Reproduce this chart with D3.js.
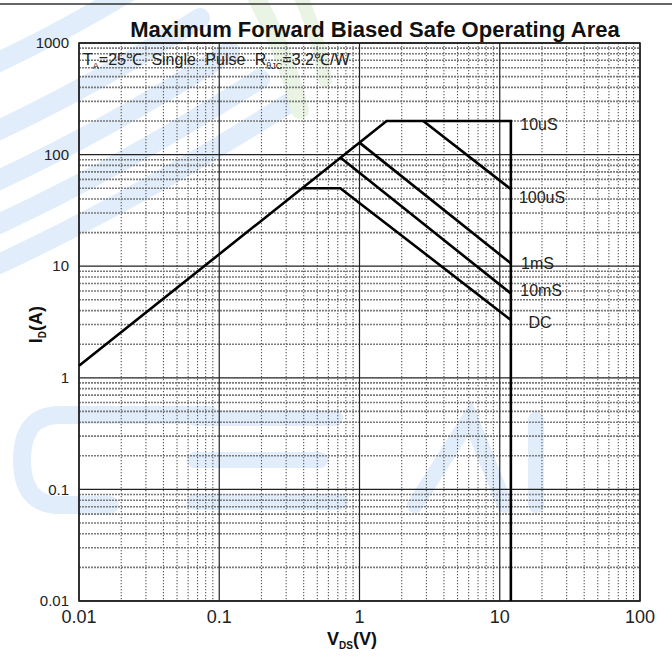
<!DOCTYPE html>
<html>
<head>
<meta charset="utf-8">
<script src="https://cdn.jsdelivr.net/npm/d3@7"></script>
<style>
  body { margin: 0; background: #fff; }
  svg { display: block; font-family: "Liberation Sans", Arial, sans-serif; }
</style>
</head>
<body>
<div id="chart"></div>
<script>
const width = 672;
const height = 664;
const margin = { top: 43, right: 32, bottom: 63, left: 79 };

// axis ticks
const xTickValues = [0.01, 0.1, 1, 10, 100];
const xTickLabels = ["0.01", "0.1", "1", "10", "100"];
const yTickValues = [0.01, 0.1, 1, 10, 100, 1000];
const yTickLabels = ["0.01", "0.1", "1", "10", "100", "1000"];

// SOA curves, VDS (V) and ID (A)
const seriesNames = ["10uS", "100uS", "1mS", "10mS", "DC"];
const seriesV = [
    [0.01, 1.56, 12, 12],
    [2.85, 12],
    [1.0, 12],
    [0.73, 12],
    [0.39, 0.73, 12]
];
const seriesI = [
    [1.28, 200, 200, 0.01],
    [200, 49],
    [128, 10.6],
    [94, 5.7],
    [50, 50, 3.3]
];
// where each curve label sits
const labelI = [188, 41.7, 10.7, 6.1, 3.16];
const labelV = [14, 13.7, 14.2, 14, 16];

const svg = d3.select("#chart")
    .append("svg")
    .attr("width", width)
    .attr("height", height);

const x = d3.scaleLog()
    .domain([0.01, 100])
    .range([margin.left, width - margin.right]);

const y = d3.scaleLog()
    .domain([0.01, 1000])
    .range([height - margin.bottom, margin.top]);

// faint watermark behind everything
const wmBlue = "#e1edfa";
const wmGreen = "#eaf4e4";
const wm = svg.append("g").attr("fill", "none").attr("stroke-linecap", "round");
[60, 128, 178, 222, 262].forEach((y0, i) => {
    const xe = 170 + i * 30;
    wm.append("path")
        .attr("d", `M-10,${y0 + 6} Q${xe * 0.45},${y0 - xe * 0.2} ${xe},${y0 - xe * 0.55}`)
        .attr("stroke", wmBlue)
        .attr("stroke-width", 20);
});
wm.append("path")
    .attr("d", "M255,-5 Q285,50 300,110")
    .attr("stroke", wmGreen).attr("stroke-width", 18);
wm.append("path")
    .attr("d", "M300,-5 Q320,40 325,80")
    .attr("stroke", wmGreen).attr("stroke-width", 14);
// letters
wm.append("path")
    .attr("d", "M210,415 H60 Q22,415 22,460 Q22,505 60,505 H110")
    .attr("stroke", wmBlue).attr("stroke-width", 18);
wm.append("path")
    .attr("d", "M195,418 H335 M195,460 H320 M195,502 H340")
    .attr("stroke", wmBlue).attr("stroke-width", 16);
wm.append("path")
    .attr("d", "M415,505 L470,418 L505,505")
    .attr("stroke", wmBlue).attr("stroke-width", 16);
wm.append("path")
    .attr("d", "M536,420 V505")
    .attr("stroke", wmBlue).attr("stroke-width", 16);

// page rule at the top
svg.append("line")
    .attr("x1", 0).attr("x2", width)
    .attr("y1", 4).attr("y2", 4)
    .attr("stroke", "#333")
    .attr("stroke-width", 1.5);

// title
svg.append("text")
    .attr("x", 375)
    .attr("y", 37)
    .attr("text-anchor", "middle")
    .style("font-size", "22px")
    .style("font-weight", "bold")
    .attr("fill", "#111")
    .text("Maximum Forward Biased Safe Operating Area");

const grid = svg.append("g");

// minor gridlines (2..9 of each decade)
const xMinor = x.ticks().filter(d => !xTickValues.some(t => Math.abs(t - d) / t < 1e-6));
const yMinor = y.ticks().filter(d => !yTickValues.some(t => Math.abs(t - d) / t < 1e-6));

grid.selectAll(".vminor")
    .data(xMinor)
    .join("line")
    .attr("x1", d => x(d)).attr("x2", d => x(d))
    .attr("y1", y(1000)).attr("y2", y(0.01))
    .attr("stroke", "#555")
    .attr("stroke-width", 1.1)
    .attr("stroke-dasharray", "1.2 1.8");

grid.selectAll(".hminor")
    .data(yMinor)
    .join("line")
    .attr("x1", x(0.01)).attr("x2", x(100))
    .attr("y1", d => y(d)).attr("y2", d => y(d))
    .attr("stroke", "#7a7a7a")
    .attr("stroke-width", 1.6)
    .attr("stroke-dasharray", "2 1");

// decade lines
grid.selectAll(".vmajor")
    .data(xTickValues)
    .join("line")
    .attr("x1", d => x(d)).attr("x2", d => x(d))
    .attr("y1", y(1000)).attr("y2", y(0.01))
    .attr("stroke", "#222")
    .attr("stroke-width", 1.2);

grid.selectAll(".hmajor")
    .data(yTickValues)
    .join("line")
    .attr("x1", x(0.01)).attr("x2", x(100))
    .attr("y1", d => y(d)).attr("y2", d => y(d))
    .attr("stroke", "#222")
    .attr("stroke-width", 1.3);

// frame
svg.append("rect")
    .attr("x", x(0.01))
    .attr("y", y(1000))
    .attr("width", x(100) - x(0.01))
    .attr("height", y(0.01) - y(1000))
    .attr("fill", "none")
    .attr("stroke", "#222")
    .attr("stroke-width", 1.6);

// curves
const line = d3.line()
    .x(d => x(d[0]))
    .y(d => y(d[1]));

seriesNames.forEach((name, i) => {
    const pts = seriesV[i].map((v, j) => [v, seriesI[i][j]]);
    svg.append("path")
        .datum(pts)
        .attr("d", line)
        .attr("fill", "none")
        .attr("stroke", "#000")
        .attr("stroke-width", 2.6)
        .attr("stroke-linejoin", "miter");

    svg.append("text")
        .attr("x", x(labelV[i]))
        .attr("y", y(labelI[i]))
        .attr("dy", "0.35em")
        .style("font-size", "16px")
        .attr("fill", "#222")
        .text(name);
});

// tick labels
svg.selectAll(".xlab")
    .data(xTickValues)
    .join("text")
    .attr("x", d => x(d))
    .attr("y", y(0.01) + 22)
    .attr("text-anchor", "middle")
    .style("font-size", "18px")
    .attr("fill", "#222")
    .text((d, i) => xTickLabels[i]);

svg.selectAll(".ylab")
    .data(yTickValues)
    .join("text")
    .attr("x", x(0.01) - 10)
    .attr("y", d => y(d))
    .attr("dy", "0.35em")
    .attr("text-anchor", "end")
    .style("font-size", "15px")
    .attr("fill", "#222")
    .text((d, i) => yTickLabels[i]);

// conditions note
const note = svg.append("text")
    .attr("x", x(0.01) + 4)
    .attr("y", y(1000) + 22)
    .style("font-size", "16px")
    .style("word-spacing", "5px")
    .attr("fill", "#222");
note.append("tspan").text("T");
note.append("tspan").attr("dy", 4).style("font-size", "9px").text("A");
note.append("tspan").attr("dy", -4).text("=25\u2103 Single Pulse R");
note.append("tspan").attr("dy", 4).style("font-size", "9px").text("\u03b8JC");
note.append("tspan").attr("dy", -4).text("=3.2\u2103/W");

// axis titles
const xt = svg.append("text")
    .attr("x", 352)
    .attr("y", 645)
    .attr("text-anchor", "middle")
    .style("font-size", "18px")
    .style("font-weight", "bold")
    .attr("fill", "#111");
xt.append("tspan").text("V");
xt.append("tspan").attr("dy", 4).style("font-size", "10px").text("DS");
xt.append("tspan").attr("dy", -4).text("(V)");

const yt = svg.append("text")
    .attr("transform", "translate(42," + y(3) + ") rotate(-90)")
    .attr("text-anchor", "middle")
    .style("font-size", "18px")
    .style("font-weight", "bold")
    .attr("fill", "#111");
yt.append("tspan").text("I");
yt.append("tspan").attr("dy", 4).style("font-size", "10px").text("D");
yt.append("tspan").attr("dy", -4).text("(A)");
</script>
</body>
</html>
